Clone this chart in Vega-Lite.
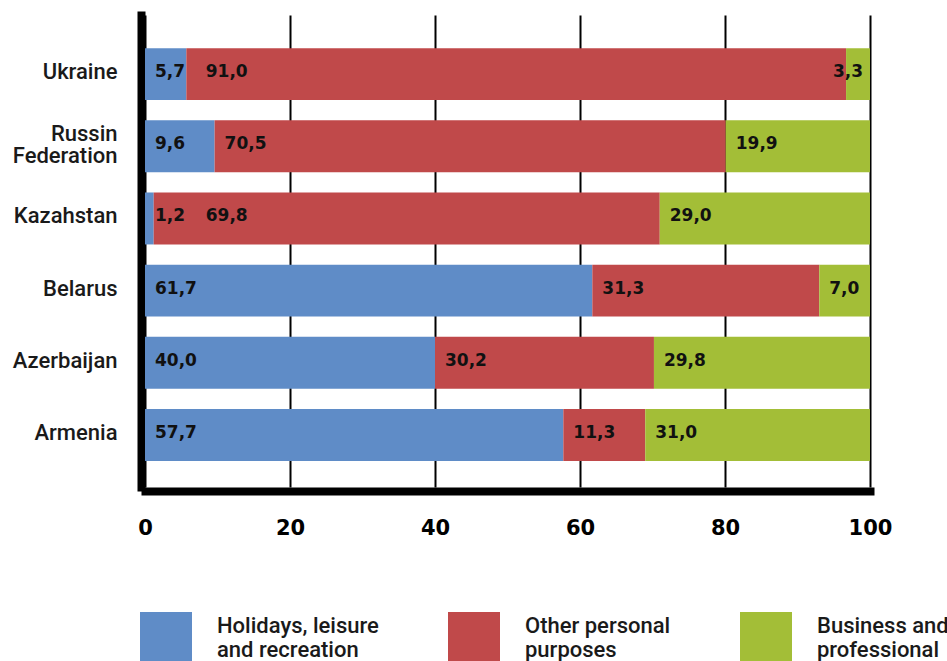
{
  "$schema": "https://vega.github.io/schema/vega-lite/v6.json",
  "description": "Purpose of trips by country, percent shares",
  "autosize": {"type": "none"},
  "width": 725,
  "height": 472,
  "padding": {"left": 145, "top": 15, "right": 77, "bottom": 174},
  "background": "white",
  "config": {
    "view": {"stroke": null},
    "locale": {"number": {"decimal": ",", "thousands": ".", "grouping": [3], "currency": ["", ""]}}
  },
  "data": {
    "values": [
      {"country": "Ukraine", "purpose": "Holidays, leisure and recreation", "seq": 1, "share": 5.7},
      {"country": "Ukraine", "purpose": "Other personal purposes", "seq": 2, "share": 91.0},
      {"country": "Ukraine", "purpose": "Business and professional", "seq": 3, "share": 3.3},
      {"country": "Russin Federation", "purpose": "Holidays, leisure and recreation", "seq": 1, "share": 9.6},
      {"country": "Russin Federation", "purpose": "Other personal purposes", "seq": 2, "share": 70.5},
      {"country": "Russin Federation", "purpose": "Business and professional", "seq": 3, "share": 19.9},
      {"country": "Kazahstan", "purpose": "Holidays, leisure and recreation", "seq": 1, "share": 1.2},
      {"country": "Kazahstan", "purpose": "Other personal purposes", "seq": 2, "share": 69.8},
      {"country": "Kazahstan", "purpose": "Business and professional", "seq": 3, "share": 29.0},
      {"country": "Belarus", "purpose": "Holidays, leisure and recreation", "seq": 1, "share": 61.7},
      {"country": "Belarus", "purpose": "Other personal purposes", "seq": 2, "share": 31.3},
      {"country": "Belarus", "purpose": "Business and professional", "seq": 3, "share": 7.0},
      {"country": "Azerbaijan", "purpose": "Holidays, leisure and recreation", "seq": 1, "share": 40.0},
      {"country": "Azerbaijan", "purpose": "Other personal purposes", "seq": 2, "share": 30.2},
      {"country": "Azerbaijan", "purpose": "Business and professional", "seq": 3, "share": 29.8},
      {"country": "Armenia", "purpose": "Holidays, leisure and recreation", "seq": 1, "share": 57.7},
      {"country": "Armenia", "purpose": "Other personal purposes", "seq": 2, "share": 11.3},
      {"country": "Armenia", "purpose": "Business and professional", "seq": 3, "share": 31.0}
    ]
  },
  "transform": [
    {"stack": "share", "groupby": ["country"], "sort": [{"field": "seq", "order": "ascending"}], "as": ["x0", "x1"]},
    {"calculate": "min(max(datum.x0, datum.seq == 1 ? 0 : 7), 93.5)", "as": "lx"}
  ],
  "encoding": {
    "y": {
      "field": "country",
      "type": "nominal",
      "sort": ["Ukraine", "Russin Federation", "Kazahstan", "Belarus", "Azerbaijan", "Armenia"],
      "scale": {"paddingInner": 0.28, "paddingOuter": 0.41, "align": 0.56},
      "axis": {
        "title": null,
        "ticks": false,
        "tickSize": 0,
        "domainColor": "black",
        "domainWidth": 8,
        "domainCap": "square",
        "offset": 4,
        "labelPadding": 24,
        "labelFont": "Roboto",
        "labelFontSize": 22,
        "labelFontWeight": 500,
        "labelColor": "#1a1a1a",
        "labelLineHeight": 22,
        "labelOffset": {"condition": {"test": "datum.value == 'Russin Federation'", "value": -12}, "value": -2},
        "labelExpr": "datum.value == 'Russin Federation' ? ['Russin', 'Federation'] : datum.value"
      }
    }
  },
  "layer": [
    {
      "mark": {"type": "bar", "opacity": 1},
      "encoding": {
        "x": {
          "field": "x0",
          "type": "quantitative",
          "scale": {"domain": [0, 100], "nice": false},
          "axis": {
            "title": null,
            "values": [0, 20, 40, 60, 80, 100],
            "grid": true,
            "gridColor": "black",
            "gridWidth": 2,
            "gridOpacity": 1,
            "ticks": false,
            "tickSize": 0,
            "domainColor": "black",
            "domainWidth": 8,
            "domainCap": "square",
            "offset": 4,
            "labelPadding": 26,
            "labelFont": "DejaVu Sans",
            "labelFontSize": 21,
            "labelFontWeight": "bold",
            "labelColor": "black",
            "labelFlush": false
          }
        },
        "x2": {"field": "x1"},
        "color": {
          "field": "purpose",
          "type": "nominal",
          "scale": {
            "domain": ["Holidays, leisure and recreation", "Other personal purposes", "Business and professional"],
            "range": ["#5f8cc7", "#c0494a", "#a3be37"]
          },
          "legend": {
            "title": null,
            "orient": "none",
            "legendX": -5,
            "legendY": 597,
            "direction": "horizontal",
            "columns": 3,
            "columnPadding": 69,
            "symbolType": "square",
            "symbolSize": 2704,
            "symbolStrokeWidth": 0,
            "symbolOpacity": 1,
            "labelOffset": 25,
            "labelFont": "Roboto",
            "labelFontSize": 22,
            "labelFontWeight": 500,
            "labelColor": "#1a1a1a",
            "labelBaseline": "bottom",
            "labelLineHeight": 23,
            "labelLimit": 300,
            "labelExpr": "datum.value == 'Holidays, leisure and recreation' ? ['Holidays, leisure', 'and recreation'] : datum.value == 'Other personal purposes' ? ['Other personal', 'purposes'] : ['Business and', 'professional']"
          }
        }
      }
    },
    {
      "mark": {"type": "text", "align": "left", "baseline": "middle", "dx": 10, "dy": -2, "font": "DejaVu Sans", "fontSize": 17, "fontWeight": "bold", "color": "#111111"},
      "encoding": {
        "x": {"field": "lx", "type": "quantitative"},
        "text": {"field": "share", "type": "quantitative", "format": ".1f"}
      }
    }
  ]
}
